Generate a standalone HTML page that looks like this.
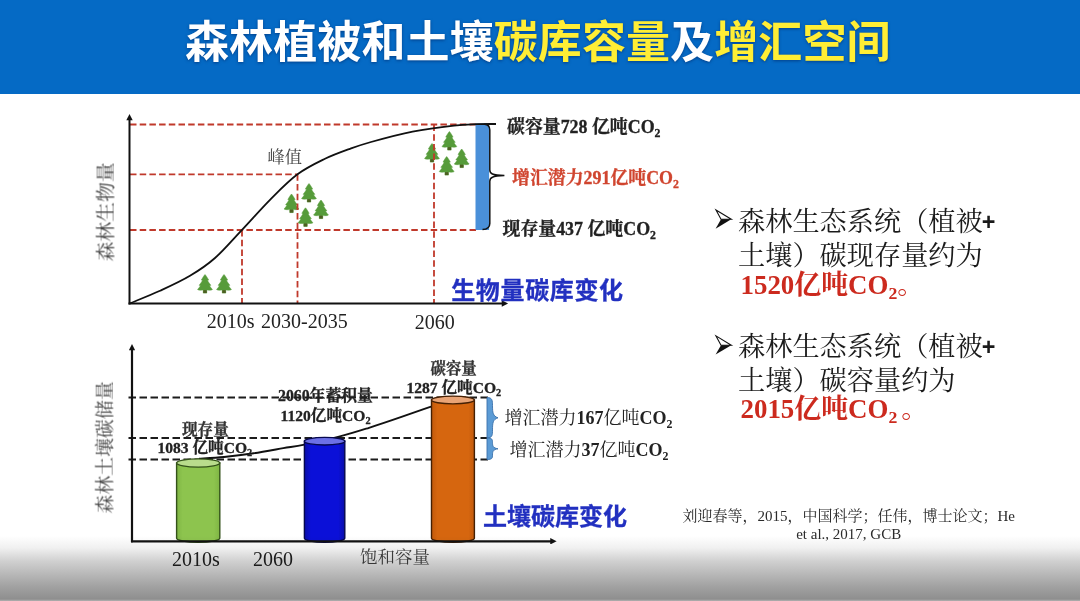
<!DOCTYPE html>
<html lang="zh"><head><meta charset="utf-8"><title>森林植被和土壤碳库容量及增汇空间</title><style>
html,body{margin:0;padding:0}
body{width:1080px;height:601px;position:relative;overflow:hidden;background:#fff;font-family:"Liberation Serif","Noto Serif CJK SC",serif}
svg{overflow:visible}
.hdr{position:absolute;left:0;top:0;width:1080px;height:93.5px;background:#056ac5}
.title{position:absolute;left:185px;top:20.3px;height:45px;line-height:45px;white-space:nowrap;font-size:44px;font-weight:bold;letter-spacing:.1px;font-family:"Liberation Sans","Noto Sans CJK SC",sans-serif;filter:blur(.45px) drop-shadow(0 1px 1.5px rgba(0,30,90,.55))}
.title .w{color:#fff}
.title .y{color:#ffee35}
.chart{position:absolute;left:0;top:0}
.chart,.t,.cit{filter:blur(.42px)}
.t{position:absolute;white-space:nowrap;line-height:1.4em}
.bd{-webkit-text-stroke:.3px currentColor}
.sans{font-family:"Liberation Sans","Noto Sans CJK SC",sans-serif}
.t sub,.cit sub{font-size:.66em;vertical-align:-0.3em;line-height:0}
.plus{font-family:"Liberation Sans",sans-serif;font-weight:bold;font-size:.86em;position:relative;top:-0.04em;margin-left:-1px}
.cit{position:absolute;text-align:center;font-size:15px;line-height:18px;color:#2b2b2b;white-space:nowrap}
.grad{position:absolute;left:0;top:536px;width:1080px;height:65px;background:linear-gradient(to bottom,#fff 0%,#f0f0f0 18.5%,#d0d0d0 38.5%,#b8b8b8 58.5%,#a0a0a0 79%,#909090 95.4%,#8e8e8e 97%,#a8a8a8 99.2%,#adadad 100%);mix-blend-mode:multiply}
</style></head><body>
<div class="hdr"><div class="title" aria-label="森林植被和土壤碳库容量及增汇空间"><span class="w">森林植被和土壤</span><span class="y">碳库容量</span><span class="w">及</span><span class="y">增汇空间</span></div></div>
<svg class="chart" width="1080" height="601" viewBox="0 0 1080 601"><defs><g id="tree" transform="translate(0.6,0) scale(0.92,1)"><path d="M7.5,0 C8.6,0.9 10.3,3.6 11.5,5.6 L10.2,6 C11.3,7.6 12.6,9.4 13.9,10.8 L12.4,11.2 C13.4,12.7 14.6,14 15.6,15 C15.4,15.7 12,15.8 9.4,15.6 L9.4,18.6 L5.6,18.6 L5.6,15.6 C3,15.8 -0.4,15.7 -0.6,15 C0.4,14 1.6,12.7 2.6,11.2 L1.1,10.8 C2.4,9.4 3.7,7.6 4.8,6 L3.5,5.6 C4.7,3.6 6.4,0.9 7.5,0 Z" fill="#569b3a" stroke="#569b3a" stroke-width="0.5" stroke-linejoin="round"/><rect x="5.6" y="15.7" width="3.8" height="2.9" fill="#4d5f22"/></g><marker id="ah" viewBox="0 0 10 10" refX="2" refY="5" markerUnits="userSpaceOnUse" markerWidth="8" markerHeight="6.4" orient="auto"><path d="M0,0 L10,5 L0,10 Z" fill="#111"/></marker><linearGradient id="gb" x1="0" x2="1" y1="0" y2="0"><stop offset="0" stop-color="#0a0ea8"/><stop offset=".16" stop-color="#0b10d8"/><stop offset=".84" stop-color="#0b10d8"/><stop offset="1" stop-color="#0a0ea8"/></linearGradient><linearGradient id="gg" x1="0" x2="1" y1="0" y2="0"><stop offset="0" stop-color="#7fb544"/><stop offset=".14" stop-color="#8dc44e"/><stop offset=".86" stop-color="#8dc44e"/><stop offset="1" stop-color="#7fb544"/></linearGradient><linearGradient id="go" x1="0" x2="1" y1="0" y2="0"><stop offset="0" stop-color="#c25a0c"/><stop offset=".14" stop-color="#d6660f"/><stop offset=".86" stop-color="#d6660f"/><stop offset="1" stop-color="#c25a0c"/></linearGradient></defs><use href="#tree" x="197.5" y="274.5"/><use href="#tree" x="216.5" y="274.5"/><use href="#tree" x="284.0" y="194.0"/><use href="#tree" x="301.5" y="183.5"/><use href="#tree" x="313.5" y="200.0"/><use href="#tree" x="298.0" y="207.8"/><use href="#tree" x="424.5" y="143.5"/><use href="#tree" x="441.9" y="131.5"/><use href="#tree" x="454.2" y="149.0"/><use href="#tree" x="439.2" y="156.5"/><g stroke="#c0392b" stroke-width="1.8" stroke-dasharray="6.5 3.2" fill="none"><path d="M130,124.5H477"/><path d="M130,174.3H297.5"/><path d="M130,230H477"/><path d="M242,230V303"/><path d="M297.5,174.3V303"/><path d="M434,124.5V303"/></g><rect x="475.5" y="123.5" width="13.6" height="106.5" fill="#4a90d9"/><path d="M130.0,303.3C135.0,301.2 150.0,295.4 160.0,290.8C170.0,286.2 180.8,281.3 190.0,275.8C199.2,270.3 206.3,265.7 215.0,258.0C223.7,250.3 232.8,239.5 242.0,229.8C251.2,220.1 260.8,209.1 270.0,199.8C279.2,190.6 288.3,181.1 297.5,174.3C306.7,167.5 316.2,163.1 325.0,158.8C333.8,154.6 342.3,151.6 350.0,148.8C357.7,146.0 360.6,144.9 371.0,142.0C381.4,139.1 398.8,134.3 412.6,131.6C426.4,128.9 443.3,126.8 454.0,125.6C464.7,124.4 470.0,124.5 477.0,124.2C484.0,123.9 492.8,124.0 496.0,124.0" fill="none" stroke="#111" stroke-width="1.8"/><path d="M484.5,124.2 C488.5,124.4 489.8,126 489.8,130 V170 C489.8,173.5 492,175.3 504.4,175.6 C492,175.9 489.8,177.7 489.8,181.2 V223.5 C489.8,227.5 488,229.3 482.5,229.6" fill="none" stroke="#111" stroke-width="1.5"/><g stroke="#111" stroke-width="2" fill="none"><path d="M129.5,304.5V119" marker-end="url(#ah)"/><path d="M128.5,303.5H503" marker-end="url(#ah)"/></g><g stroke="#1c1c1c" stroke-width="2" stroke-dasharray="7.5 3.5" fill="none"><path d="M128.5,397.5H491.5"/><path d="M128.5,438H491.5"/><path d="M128.5,459.5H491.5"/></g><path d="M199.0,458.8C203.2,458.5 214.9,457.9 224.0,457.0C233.1,456.1 243.8,454.8 253.7,453.3C263.6,451.8 274.9,449.6 283.3,448.1C291.8,446.7 295.1,446.5 304.4,444.6C313.7,442.7 328.2,439.5 339.0,436.7C349.8,433.9 358.5,431.1 369.0,427.8C379.5,424.5 393.0,419.9 402.2,416.7C411.4,413.5 419.4,410.6 424.4,408.9C429.4,407.2 430.7,406.8 432.0,406.4" fill="none" stroke="#111" stroke-width="1.9"/><path d="M176.6,463.0 V538.2 A21.6,4.0 0 0 0 219.8,538.2 V463.0 Z" fill="url(#gg)" stroke="#34521a" stroke-width="1.4"/><ellipse cx="198.2" cy="463.0" rx="21.6" ry="4.1" fill="#b9dc8c" stroke="#34521a" stroke-width="1.4"/><path d="M304.4,441.2 V538.2 A20.2,4.0 0 0 0 344.8,538.2 V441.2 Z" fill="url(#gb)" stroke="#06084e" stroke-width="1.4"/><ellipse cx="324.6" cy="441.2" rx="20.2" ry="3.8" fill="#6c70e6" stroke="#06084e" stroke-width="1.4"/><path d="M431.5,400.0 V538.2 A21.4,4.0 0 0 0 474.4,538.2 V400.0 Z" fill="url(#go)" stroke="#452004" stroke-width="1.4"/><ellipse cx="452.9" cy="400.0" rx="21.4" ry="3.9" fill="#e9a476" stroke="#452004" stroke-width="1.4"/><path d="M487.0,397.5 C492.5,397.5 492.5,400.7 492.5,405.6 C492.5,412.9 493.0,416.1 498.0,417.8 C493.0,419.4 492.5,422.6 492.5,429.9 C492.5,434.8 492.5,438.0 487.0,438.0 Z" fill="#5b9bd5" stroke="#3a70aa" stroke-width="0.9"/><path d="M487.0,438.0 C492.5,438.0 492.5,439.7 492.5,442.3 C492.5,446.2 493.0,447.9 498.0,448.8 C493.0,449.6 492.5,451.3 492.5,455.2 C492.5,457.8 492.5,459.5 487.0,459.5 Z" fill="#5b9bd5" stroke="#3a70aa" stroke-width="0.9"/><g stroke="#111" stroke-width="2.2" fill="none"><path d="M132,542.3V349" marker-end="url(#ah)"/><path d="M131,541.3H551.5" marker-end="url(#ah)"/></g><g transform="translate(715.4,219.3)"><path d="M5.6,0 L15.9,0 L0.2,9.4 Z" fill="#111"/><path d="M0.6,-9.3 L15.9,0 L5.6,0 Z" fill="none" stroke="#111" stroke-width="1.1" stroke-linejoin="miter"/></g><g transform="translate(715.4,345.2)"><path d="M5.6,0 L15.9,0 L0.2,9.4 Z" fill="#111"/><path d="M0.6,-9.3 L15.9,0 L5.6,0 Z" fill="none" stroke="#111" stroke-width="1.1" stroke-linejoin="miter"/></g></svg>
<div class="t " aria-label="2010s" style="left:206.70px;top:307.45px;font-size:20.00px;color:#222;font-weight:normal;">2010s</div>
<div class="t " aria-label="2030-2035" style="left:261.00px;top:307.45px;font-size:20.00px;color:#222;font-weight:normal;">2030-2035</div>
<div class="t " aria-label="2060" style="left:414.80px;top:307.75px;font-size:20.00px;color:#222;font-weight:normal;">2060</div>
<div class="t " aria-label="峰值" style="left:267.50px;top:145.88px;font-size:17.30px;color:#444;font-weight:normal;">峰值</div>
<div class="t bd" aria-label="碳容量728 亿吨CO2" style="left:507.00px;top:115.03px;font-size:17.90px;color:#222;font-weight:bold;">碳容量728 亿吨CO<sub>2</sub></div>
<div class="t bd" aria-label="增汇潜力291亿吨CO2" style="left:512.00px;top:165.63px;font-size:17.90px;color:#d0452f;font-weight:bold;">增汇潜力291亿吨CO<sub>2</sub></div>
<div class="t bd" aria-label="现存量437 亿吨CO2" style="left:502.50px;top:217.13px;font-size:17.90px;color:#222;font-weight:bold;">现存量437 亿吨CO<sub>2</sub></div>
<div class="t bd sans" aria-label="生物量碳库变化" style="left:451.20px;top:273.72px;font-size:24.00px;color:#2230c0;font-weight:bold;letter-spacing:0.65px">生物量碳库变化</div>
<div class="t" aria-label="森林生物量" style="left:56.80px;top:202.30px;width:99.00px;text-align:center;font-size:19.80px;color:#444;transform:rotate(-90deg);transform-origin:50% 50%;line-height:1em;height:1em">森林生物量</div>
<div class="t" aria-label="森林土壤碳储量" style="left:40.15px;top:438.35px;width:132.30px;text-align:center;font-size:18.90px;color:#444;transform:rotate(-90deg);transform-origin:50% 50%;line-height:1em;height:1em">森林土壤碳储量</div>
<div class="t bd" aria-label="现存量" style="left:182.00px;top:418.92px;font-size:15.60px;color:#333;font-weight:bold;">现存量</div>
<div class="t bd" aria-label="1083 亿吨CO2" style="left:157.40px;top:437.12px;font-size:15.60px;color:#222;font-weight:bold;">1083 亿吨CO<sub>2</sub></div>
<div class="t bd" aria-label="2060年蓄积量" style="left:278.00px;top:384.91px;font-size:15.80px;color:#222;font-weight:bold;">2060年蓄积量</div>
<div class="t bd" aria-label="1120亿吨CO2" style="left:280.50px;top:405.01px;font-size:15.60px;color:#222;font-weight:bold;">1120亿吨CO<sub>2</sub></div>
<div class="t bd" aria-label="碳容量" style="left:430.50px;top:358.42px;font-size:15.40px;color:#333;font-weight:bold;">碳容量</div>
<div class="t bd" aria-label="1287 亿吨CO2" style="left:406.40px;top:376.81px;font-size:15.60px;color:#222;font-weight:bold;">1287 亿吨CO<sub>2</sub></div>
<div class="t " aria-label="增汇潜力167亿吨CO2" style="left:504.50px;top:406.12px;font-size:18.00px;color:#222;font-weight:normal;">增汇潜力<b>167</b>亿吨<b>CO<sub>2</sub></b></div>
<div class="t " aria-label="增汇潜力37亿吨CO2" style="left:509.50px;top:437.62px;font-size:18.00px;color:#222;font-weight:normal;">增汇潜力<b>37</b>亿吨<b>CO<sub>2</sub></b></div>
<div class="t bd sans" aria-label="土壤碳库变化" style="left:483.00px;top:500.07px;font-size:24.00px;color:#2230c0;font-weight:bold;">土壤碳库变化</div>
<div class="t " aria-label="饱和容量" style="left:360.00px;top:545.14px;font-size:17.50px;color:#444;font-weight:normal;">饱和容量</div>
<div class="t " aria-label="2010s" style="left:172.00px;top:545.25px;font-size:20.00px;color:#222;font-weight:normal;">2010s</div>
<div class="t " aria-label="2060" style="left:253.00px;top:545.25px;font-size:20.00px;color:#222;font-weight:normal;">2060</div>
<div class="t bt" aria-label="森林生态系统（植被+" style="left:738.00px;top:203.12px;font-size:27.20px;color:#1a1a1a;font-weight:normal;">森林生态系统（植被<span class="plus">+</span></div>
<div class="t bt" aria-label="土壤）碳现存量约为" style="left:738.00px;top:236.62px;font-size:27.20px;color:#1a1a1a;font-weight:normal;">土壤）碳现存量约为</div>
<div class="t nb" aria-label="1520亿吨CO2。" style="left:740.50px;top:266.59px;font-size:26.90px;color:#cc2a1e;font-weight:bold;">1520亿吨CO<sub>2</sub><span>。</span></div>
<div class="t bt" aria-label="森林生态系统（植被+" style="left:738.00px;top:327.72px;font-size:27.20px;color:#1a1a1a;font-weight:normal;">森林生态系统（植被<span class="plus">+</span></div>
<div class="t bt" aria-label="土壤）碳容量约为" style="left:738.00px;top:362.02px;font-size:27.20px;color:#1a1a1a;font-weight:normal;">土壤）碳容量约为</div>
<div class="t nb" aria-label="2015亿吨CO2。" style="left:740.50px;top:391.39px;font-size:26.90px;color:#cc2a1e;font-weight:bold;">2015亿吨CO<sub>2</sub><span style="margin-left:4px">。</span></div>
<div class="cit" aria-label="刘迎春等，2015，中国科学；任伟，博士论文；He et al., 2017, GCB" style="left:648.7px;top:507.04px;width:400px">刘迎春等，2015，中国科学；任伟，博士论文；He<br>et al., 2017, GCB</div>
<div class="grad"></div>
</body></html>
